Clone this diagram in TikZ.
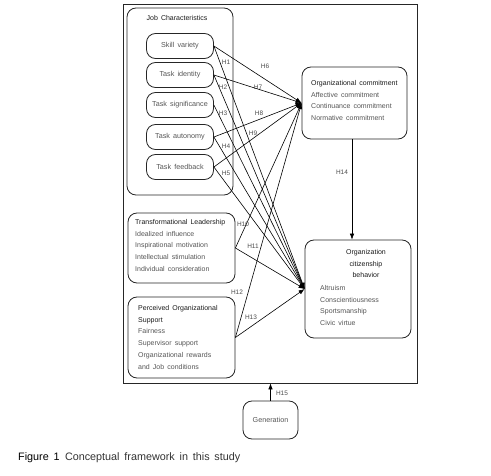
\documentclass[tikz,border=0pt]{standalone}
\usepackage{fontspec}
\setmainfont{Liberation Sans}[WordSpace=1.6]
\usetikzlibrary{arrows.meta}
\definecolor{itemgray}{HTML}{555555}
\definecolor{titlegray}{HTML}{1A1A1A}
\begin{document}
\begin{tikzpicture}[x=1pt,y=-1pt,
  box/.style={draw=black!85, rounded corners=9pt, line width=0.8pt, inner sep=0pt},
  sbox/.style={draw=black!85, rounded corners=9pt, line width=0.8pt, minimum width=67pt, minimum height=25pt, inner sep=0pt,
    font=\fontsize{7.2}{8}\selectfont, text=itemgray},
  txt/.style={font=\fontsize{7}{11.75}\selectfont, align=left, inner sep=0pt, text=itemgray},
  ttl/.style={text=titlegray},
  hl/.style={font=\fontsize{6.5}{8}\selectfont, text=black!70, inner sep=0pt},
  arr/.style={-{Latex[length=6pt,width=4.5pt]}, line width=0.6pt},
]
\useasboundingbox (0,0) rectangle (491,476);

% outer frame
\node[draw=black!85, line width=0.8pt, minimum width=294pt, minimum height=379pt, inner sep=0pt] (frame) at (270,193.5) {};

% job characteristics
\node[box, minimum width=106pt, minimum height=187pt] (jc) at (180,101.5) {};
\node[txt, ttl, anchor=center] (jct) at (177,18) {Job Characteristics};
\node[sbox] (sv) at (180,46) {Skill variety};
\node[sbox] (ti) at (180,75) {Task identity};
\node[sbox] (ts) at (180,105) {Task significance};
\node[sbox] (ta) at (180,137) {Task autonomy};
\node[sbox] (tf) at (180,167) {Task feedback};

% organizational commitment
\node[box, minimum width=105pt, minimum height=72pt] (oc) at (354.5,103) {};
\node[txt, anchor=north west] (oct) at (311,80) {\textcolor{titlegray}{Organizational commitment}\\Affective commitment\\Continuance commitment\\Normative commitment};

% OCB
\node[box, minimum width=106pt, minimum height=98pt] (ocb) at (358,289) {};
\node[txt, ttl, align=center, anchor=north] (ocbt) at (366,249) {Organization\\citizenship\\behavior};
\node[txt, anchor=north west] (ocbi) at (320,285) {Altruism\\Conscientiousness\\Sportsmanship\\Civic virtue};

% transformational leadership
\node[box, minimum width=107pt, minimum height=70pt] (tl) at (181.5,248) {};
\node[txt, anchor=north west] (tlt) at (135,219) {\textcolor{titlegray}{Transformational Leadership}\\Idealized influence\\Inspirational motivation\\Intellectual stimulation\\Individual consideration};

% perceived organizational support
\node[box, minimum width=107pt, minimum height=81pt] (pos) at (181.5,337.5) {};
\node[txt, anchor=north west] (post) at (138,305) {\textcolor{titlegray}{Perceived Organizational}\\\textcolor{titlegray}{Support}\\Fairness\\Supervisor support\\Organizational rewards\\and Job conditions};

% generation
\node[sbox, minimum width=55pt, minimum height=38pt] (gen) at (270.5,420) {Generation};

% arrows to organizational commitment
\foreach \s in {sv,ti,ta,tf,tl,pos}
  \draw[arr] (\s.east) -- (oc.west);
% arrows to OCB
\foreach \s in {sv,ti,ts,ta,tf,tl,pos}
  \draw[arr] (\s.east) -- (ocb.west);
% H14
\draw[arr] ([xshift=-2.5pt]oc.south) -- ([xshift=-2.5pt]oc.south |- ocb.north);
% H15
\draw[arr] (gen.north) -- (gen.north |- frame.south);

% labels
\node[hl] (h1) at (226,62) {H1};
\node[hl] (h2) at (223,87) {H2};
\node[hl] (h3) at (223,113) {H3};
\node[hl] (h4) at (226,146) {H4};
\node[hl] (h5) at (226,173) {H5};
\node[hl] (h6) at (265,66) {H6};
\node[hl] (h7) at (258,87) {H7};
\node[hl] (h8) at (259,113) {H8};
\node[hl] (h9) at (253,133) {H9};
\node[hl] (h10) at (243,224) {H10};
\node[hl] (h11) at (253,246) {H11};
\node[hl] (h12) at (237,292) {H12};
\node[hl] (h13) at (251,317) {H13};
\node[hl] (h14) at (342,172) {H14};
\node[hl] (h15) at (282,393) {H15};

% caption
\node[anchor=west, inner sep=0pt, font=\fontsize{10.8}{12}\selectfont, text=black!80] (cap) at (18,458) {\textcolor{black}{Figure 1}\enspace Conceptual\ framework\ in\ this\ study};
\end{tikzpicture}
\end{document}
